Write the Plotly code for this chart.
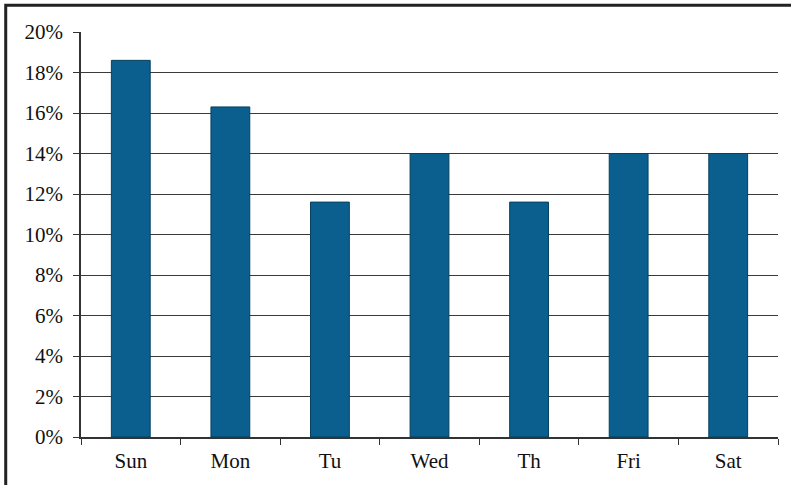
import plotly.graph_objects as go

days = ["Sun", "Mon", "Tu", "Wed", "Th", "Fri", "Sat"]
shares = [18.6, 16.3, 11.6, 14.0, 11.6, 14.0, 14.0]
y_ticks = [0, 2, 4, 6, 8, 10, 12, 14, 16, 18, 20]
y_tick_labels = [f"{v}%" for v in y_ticks]

fig = go.Figure(go.Bar(
    x=days, y=shares,
    marker=dict(color="#0a5f8e", line=dict(color="#06415f", width=1)),
    width=0.39,
))

font = dict(family="Liberation Serif, Times New Roman, serif", size=21, color="#111")

fig.update_layout(
    width=791, height=485,
    margin=dict(l=81, r=13, t=32, b=48),
    paper_bgcolor="white", plot_bgcolor="white",
    font=font, showlegend=False,
    xaxis=dict(showline=True, linecolor="#333", linewidth=1.5,
               ticks="outside", ticklen=6, tickcolor="#333",
               tickson="boundaries", showgrid=False, tickfont=font,
               ticklabelstandoff=4),
    yaxis=dict(range=[0, 20], tickvals=y_ticks, ticktext=y_tick_labels,
               showline=True, linecolor="#333", linewidth=1.5,
               ticks="outside", ticklen=6, tickcolor="#333",
               showgrid=True, gridcolor="#3a3a3a", gridwidth=1,
               zeroline=False, tickfont=font, ticklabelstandoff=6),
    shapes=[dict(type="rect", xref="paper", yref="paper",
                 x0=-0.108, x1=1.1, y0=-0.2, y1=1.066,
                 line=dict(color="#222", width=3), layer="below")],
)

fig.write_html("out.html", config={"displayModeBar": False},
               post_script="document.body.style.margin='0';")
